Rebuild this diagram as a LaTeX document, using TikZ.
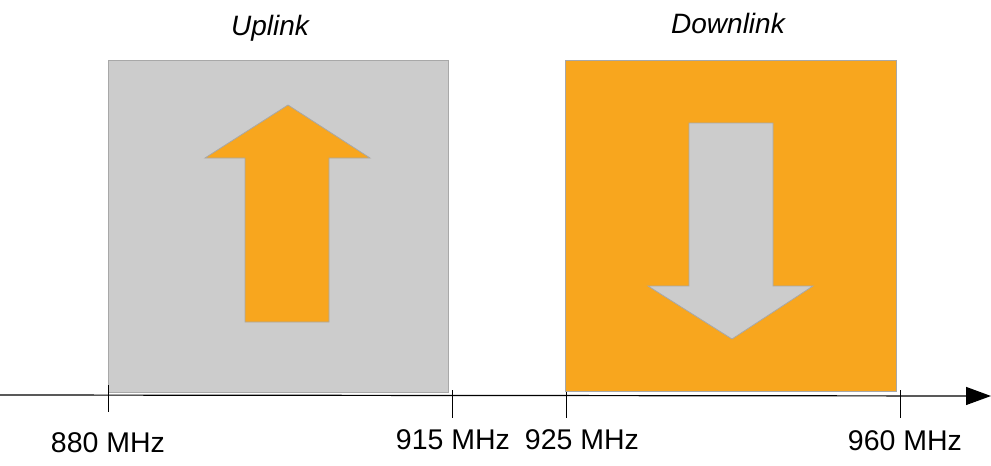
\documentclass[tikz,border=0pt]{standalone}
\usepackage{fontspec}
\setmainfont{Liberation Sans}
\usetikzlibrary{arrows.meta,positioning}

\definecolor{bandgray}{HTML}{CCCCCC}
\definecolor{bandorange}{HTML}{F8A61E}
\definecolor{edgegray}{HTML}{A8A8A8}

\tikzset{
  band/.style={draw=edgegray, line width=0.8pt, inner sep=0pt, minimum width=340pt, minimum height=332pt},
  freqlabel/.style={anchor=base, font=\fontsize{28.5}{33}\selectfont},
  titlelabel/.style={anchor=base, font=\fontsize{28}{33}\selectfont\itshape},
  tickline/.style={line width=0.8pt},
  bandarrow/.style={draw=edgegray, line width=0.8pt}
}

\begin{document}
\begin{tikzpicture}[x=1pt,y=-1pt]
\useasboundingbox (0,0) rectangle (991,466);

\node[band, fill=bandgray] (upband) at (278,226) {};
\node[band, fill=bandorange, minimum width=331pt, minimum height=331pt] (downband) at (730.5,225.5) {};

\draw[bandarrow, fill=bandorange] (288,105) -- (370,158) -- (329,158) -- (329,322) -- (245,322) -- (245,158) -- (205,158) -- cycle;
\draw[bandarrow, fill=bandgray] (732,339) -- (813,286) -- (773,286) -- (773,123) -- (689,123) -- (689,286) -- (648,286) -- cycle;

\coordinate (axstart) at (0,395);
\coordinate (axend) at (991,396);
\draw[line width=1.2pt, -{Triangle[length=25pt,width=18pt]}] (axstart) -- (axend);

\coordinate (t1top) at (108,385);
\coordinate (t1bot) at (108,412);
\coordinate (t2top) at (452,390);
\coordinate (t2bot) at (452,418);
\coordinate (t3top) at (566,392);
\coordinate (t3bot) at (566,418);
\coordinate (t4top) at (900,390);
\coordinate (t4bot) at (900,418);
\draw[tickline] (t1top) -- (t1bot);
\draw[tickline] (t2top) -- (t2bot);
\draw[tickline] (t3top) -- (t3bot);
\draw[tickline] (t4top) -- (t4bot);

\node[freqlabel] (f880) at (108,452) {880 MHz};
\node[freqlabel] (f915) at (453,449) {915 MHz};
\node[freqlabel] (f925) at (582,449) {925 MHz};
\node[freqlabel] (f960) at (905,450) {960 MHz};

\node[titlelabel] (uplink) at (270,35) {Uplink};
\node[titlelabel] (downlink) at (728,33) {Downlink};
\end{tikzpicture}
\end{document}
